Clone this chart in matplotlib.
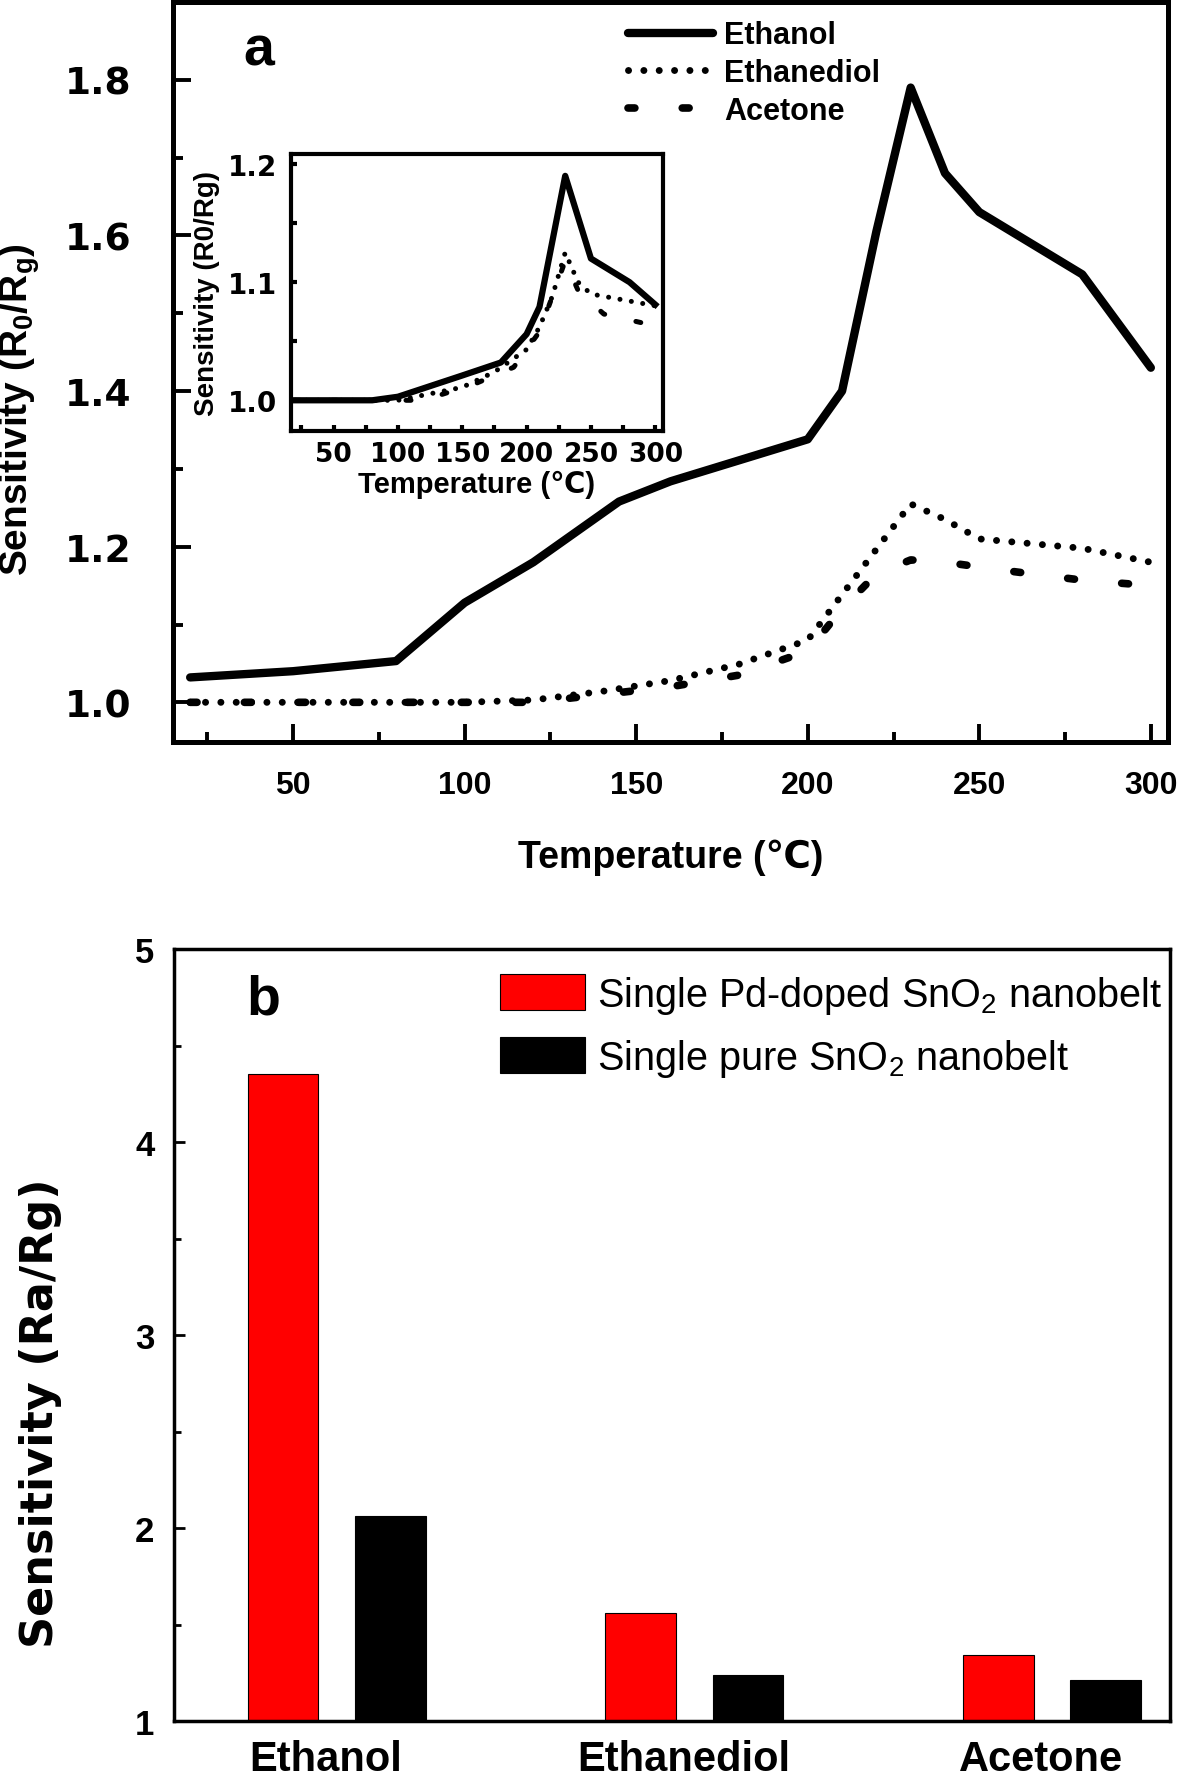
import matplotlib
matplotlib.use('Agg')
import matplotlib.pyplot as plt
from matplotlib.ticker import MultipleLocator

plt.rcParams['font.family'] = ['Liberation Sans', 'DejaVu Sans']
plt.rcParams['mathtext.default'] = 'regular'

# ---------------- Panel a: main curves ----------------
eth_T = [20, 50, 80, 100, 120, 145, 160, 200, 210, 220, 230, 240, 250, 280, 300]
eth_S = [1.032, 1.040, 1.053, 1.128, 1.180, 1.258, 1.284, 1.338, 1.400, 1.605, 1.790, 1.680, 1.630, 1.550, 1.430]
diol_T = [20, 100, 120, 140, 160, 180, 200, 230, 240, 250, 280, 300]
diol_S = [1.000, 1.000, 1.003, 1.014, 1.028, 1.049, 1.080, 1.255, 1.235, 1.210, 1.198, 1.180]
ace_T = [20, 120, 140, 160, 180, 200, 210, 220, 230, 240, 260, 280, 300]
ace_S = [1.000, 1.000, 1.010, 1.020, 1.035, 1.066, 1.120, 1.165, 1.183, 1.180, 1.168, 1.157, 1.150]

# ---------------- Panel a: inset curves ----------------
ins_eth_T = [20, 80, 100, 150, 180, 200, 210, 230, 250, 280, 300]
ins_eth_S = [1.000, 1.000, 1.003, 1.021, 1.032, 1.056, 1.079, 1.190, 1.120, 1.100, 1.081]
ins_diol_T = [20, 100, 150, 175, 200, 210, 220, 230, 240, 250, 300]
ins_diol_S = [1.000, 1.000, 1.011, 1.024, 1.043, 1.062, 1.088, 1.125, 1.100, 1.090, 1.080]
ins_ace_T = [20, 120, 160, 190, 210, 230, 240, 260, 300]
ins_ace_S = [1.000, 1.000, 1.014, 1.028, 1.058, 1.118, 1.093, 1.073, 1.063]

series_labels = ['Ethanol', 'Ethanediol', 'Acetone']

# ---------------- Panel b: bars ----------------
gases = ['Ethanol', 'Ethanediol', 'Acetone']
pd_doped = [4.35, 1.56, 1.34]
pure = [2.06, 1.24, 1.21]
bar_labels = ['Single Pd-doped SnO$_2$ nanobelt', 'Single pure SnO$_2$ nanobelt']

W, H = 1200, 1781
fig = plt.figure(figsize=(W / 100, H / 100), dpi=100)

def box(l, t, r, b):
    return [l / W, 1 - b / H, (r - l) / W, (b - t) / H]

dots = (0, (0.01, 2.2))
dash = (0, (0.9, 6.2))

# ---- main axes a ----
ax = fig.add_axes(box(173, 3, 1168, 743))
ax.plot(eth_T, eth_S, color='black', lw=6, solid_capstyle='round', label=series_labels[0])
ax.plot(diol_T, diol_S, color='black', lw=5, linestyle=dots, dash_capstyle='round', label=series_labels[1])
ax.plot(ace_T, ace_S, color='black', lw=5.5, linestyle=dash, dash_capstyle='round', label=series_labels[2])
ax.set_xlim(15, 305)
ax.set_ylim(0.949, 1.90)
ax.xaxis.set_major_locator(MultipleLocator(50))
ax.xaxis.set_minor_locator(MultipleLocator(25))
ax.yaxis.set_minor_locator(MultipleLocator(0.1))
ax.set_yticks([1.0, 1.2, 1.4, 1.6, 1.8])
ax.set_yticklabels(['1.0', '1.2', '1.4', '1.6', '1.8'])
ax.tick_params(which='both', direction='in', top=False, right=False, width=2.8)
ax.tick_params(which='major', length=13)
ax.tick_params(which='minor', length=7)
ax.tick_params(axis='x', which='major', pad=20)
ax.tick_params(axis='y', which='major', pad=30)
for lab in ax.get_xticklabels():
    lab.set_fontsize(23); lab.set_fontweight('bold')
for lab in ax.get_yticklabels():
    lab.set_fontsize(27); lab.set_fontweight('bold'); lab.set_family('DejaVu Sans')
for s in ax.spines.values():
    s.set_linewidth(3.6)
ax.set_xlabel('Temperature (℃)', fontsize=27, fontweight='bold')
ax.xaxis.set_label_coords(0.5, -0.131)
ax.set_ylabel('Sensitivity (R$_0$/R$_g$)', fontsize=28, fontweight='bold')
ax.yaxis.set_label_coords(-0.132, 0.45)
ax.text(0.086, 0.935, 'a', transform=ax.transAxes, fontsize=40, fontweight='bold',
        ha='center', va='center')
ax.legend(loc='upper left', bbox_to_anchor=(0.457, 0.975), frameon=False,
          borderpad=0, borderaxespad=0, handlelength=2.8, handletextpad=0.35,
          labelspacing=0.25, prop={'size': 22, 'weight': 'bold'})

# ---- inset ----
ai = fig.add_axes(box(291, 155, 663, 432))
ai.plot(ins_eth_T, ins_eth_S, color='black', lw=4.5)
ai.plot(ins_diol_T, ins_diol_S, color='black', lw=3.6, linestyle=(0, (0.01, 2.3)), dash_capstyle='round')
ai.plot(ins_ace_T, ins_ace_S, color='black', lw=3.6, linestyle=(0, (1, 6.4)), dash_capstyle='round')
ai.set_xlim(16.9, 306)
ai.set_ylim(0.974, 1.2085)
ai.set_xticks([50, 100, 150, 200, 250, 300])
ai.xaxis.set_minor_locator(MultipleLocator(25))
ai.set_yticks([1.0, 1.1, 1.2])
ai.set_yticklabels(['1.0', '1.1', '1.2'])
ai.yaxis.set_minor_locator(MultipleLocator(0.05))
ai.tick_params(which='both', direction='in', top=False, right=False, length=4, width=3)
ai.tick_params(axis='x', which='major', pad=7)
ai.tick_params(axis='y', which='major', pad=10)
for lab in ai.get_xticklabels():
    lab.set_fontsize(19); lab.set_fontweight('bold'); lab.set_family('DejaVu Sans')
for lab in ai.get_yticklabels():
    lab.set_fontsize(20); lab.set_fontweight('bold'); lab.set_family('DejaVu Sans')
for s in ai.spines.values():
    s.set_linewidth(3)
ai.set_xlabel('Temperature (℃)', fontsize=21, fontweight='bold')
ai.xaxis.set_label_coords(0.5, -0.141)
ai.set_ylabel('Sensitivity (R0/Rg)', fontsize=20, fontweight='bold')
ai.yaxis.set_label_coords(-0.19, 0.5)

# ---- panel b ----
bx = fig.add_axes(box(174, 950, 1170, 1722))
xs = list(range(len(gases)))
bw = 0.197
bx.bar([x - 0.15 for x in xs], pd_doped, width=bw, color='#ff0000', edgecolor='black', lw=0.8,
       label=bar_labels[0])
bx.bar([x + 0.15 for x in xs], pure, width=bw, color='black', edgecolor='black', lw=0.8,
       label=bar_labels[1])
bx.set_xlim(-0.455, 2.33)
bx.set_ylim(1, 5)
bx.set_xticks([x - 0.03 for x in xs])
bx.set_xticklabels(gases)
bx.set_yticks([1, 2, 3, 4, 5])
bx.yaxis.set_minor_locator(MultipleLocator(0.5))
bx.tick_params(axis='x', length=0, pad=13)
bx.tick_params(axis='y', which='both', direction='in', right=False, width=2)
bx.tick_params(axis='y', which='major', length=8, pad=14)
bx.tick_params(axis='y', which='minor', length=5)
for lab in bx.get_xticklabels():
    lab.set_fontsize(30); lab.set_fontweight('bold')
for lab in bx.get_yticklabels():
    lab.set_fontsize(25); lab.set_fontweight('bold')
for s in bx.spines.values():
    s.set_linewidth(2.5)
bx.set_ylabel('Sensitivity (Ra/Rg)', fontsize=32, fontweight='bold', family='DejaVu Sans')
bx.yaxis.set_label_coords(-0.112, 0.40)
bx.text(0.09, 0.935, 'b', transform=bx.transAxes, fontsize=40, fontweight='bold',
        ha='center', va='center')
bx.legend(loc='upper left', bbox_to_anchor=(0.327, 0.968), frameon=False,
          borderpad=0, borderaxespad=0, handlelength=2.15, handleheight=1.0,
          handletextpad=0.3, labelspacing=0.53, prop={'size': 28.5})

fig.savefig('out.png', dpi=100)
